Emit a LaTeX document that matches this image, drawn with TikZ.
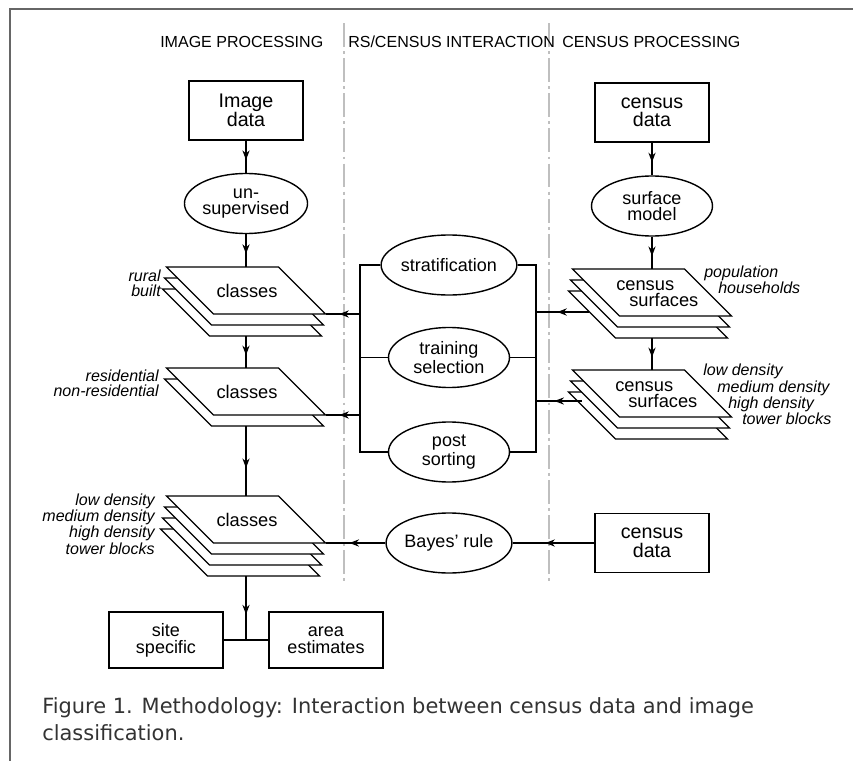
\documentclass[tikz,border=0pt]{standalone}
\usepackage{fontspec}
\setmainfont{Liberation Sans}
\newfontfamily\capfont{DejaVu Sans}
\usetikzlibrary{shapes.geometric,arrows.meta,decorations.markings}

\begin{document}
\begin{tikzpicture}[x=0.25mm,y=-0.25mm,
    box/.style={draw,line width=1pt,minimum width=28.5mm,minimum height=14.75mm,inner sep=0pt,align=center,font=\fontsize{14}{13.2}\selectfont},
    smallbox/.style={box,minimum height=14mm,font=\fontsize{12.8}{11.9}\selectfont},
    oval/.style={draw,ellipse,line width=1pt,minimum width=30.25mm,minimum height=15mm,inner sep=0pt,align=center,font=\fontsize{12.8}{11.7}\selectfont},
    sheet/.style={draw,fill=white,line width=1pt,line join=miter},
    txt/.style={inner sep=0pt,align=center,font=\fontsize{13}{11.6}\selectfont},
    lbl/.style={inner sep=0pt,font=\fontsize{11.4}{10.5}\selectfont\itshape},
    head/.style={inner sep=0pt,anchor=base west,font=\fontsize{11.4}{13}\selectfont},
    capt/.style={inner sep=0pt,anchor=base west,text=black!80,font=\capfont\fontsize{14.9}{19}\selectfont},
    link/.style={line width=0.9pt},
    flow/.style={link,postaction={decorate},decoration={markings,mark=at position 0.6 with {\arrow{Stealth[length=2.4mm,width=1.8mm]}}}},
    sep/.style={gray!50,line width=0.8pt,dash pattern=on 17pt off 3pt on 2pt off 3pt},
]
    \useasboundingbox (0,0) rectangle (853,761);

    % Frame
    \draw[gray!80!black,line width=1.2pt] (10,761) -- (10,9) -- (853,9);

    % Column separators
    \draw[sep] (344,23) -- (344,585);
    \draw[sep] (549,23) -- (549,585);

    % Headings
    \node[head] (hImg) at (160,48) {IMAGE PROCESSING};
    \node[head] (hInt) at (348,48) {RS/CENSUS INTERACTION};
    \node[head] (hCen) at (562,48) {CENSUS PROCESSING};

    % Image processing column
    \node[box] (imgdata) at (246,110.5) {Image\\data};
    \node[oval] (unsup) at (246,203.5) {un-\\supervised};

    % classes (rural / built)
    \foreach \i in {2,1,0}
        \draw[sheet] ({166.5-2*\i},{267+11*\i}) -- ++(112,0) -- ++(47,47) -- ++(-112,0) -- cycle;
    \node[txt] (cls1) at (247,291) {classes};
    \coordinate (cls1-n) at (246,267);
    \coordinate (cls1-s) at (246,336);
    \coordinate (cls1-e) at (325.5,314);
    \node[lbl,align=right,anchor=east] (labRural) at (161,283.5) {rural\\built};

    % classes (residential / non-residential)
    \foreach \i in {1,0}
        \draw[sheet] ({166.5-2*\i},{368+11*\i}) -- ++(112,0) -- ++(47,47) -- ++(-112,0) -- cycle;
    \node[txt] (cls2) at (247,392) {classes};
    \coordinate (cls2-n) at (246,368);
    \coordinate (cls2-s) at (246,426);
    \coordinate (cls2-e) at (325.5,415);
    \node[lbl,align=right,anchor=east] (labRes) at (159,383.5) {residential\\non-residential};

    % classes (densities)
    \foreach \i in {3,2,1,0}
        \draw[sheet] ({166.5-2*\i},{496+11*\i}) -- ++(112,0) -- ++(47,47) -- ++(-112,0) -- cycle;
    \node[txt] (cls3) at (247,520) {classes};
    \coordinate (cls3-n) at (246,496);
    \coordinate (cls3-s) at (246,576);
    \coordinate (cls3-e) at (325.5,543);
    \node[lbl,align=right,anchor=east] (labDens) at (155,524) {low density\\medium density\\high density\\tower blocks};

    % Outputs
    \node[smallbox] (site) at (166,640) {site\\specific};
    \node[smallbox] (area) at (326,640) {area\\estimates};
    \coordinate (junc) at (246,640);

    % Census processing column
    \node[box] (cd1) at (652,112.5) {census\\data};
    \node[oval] (surf) at (652,206) {surface\\model};

    % census surfaces (population / households)
    \foreach \i in {2,1,0}
        \draw[sheet] ({572.5-2*\i},{269+11*\i}) -- ++(112,0) -- ++(47,47) -- ++(-112,0) -- cycle;
    \node[txt,align=left,anchor=west] (cs1) at (616,293.5) {census\\\hspace*{3.25mm}surfaces};
    \coordinate (cs1-n) at (652,269);
    \coordinate (cs1-s) at (652,338);
    \coordinate (cs1-w) at (589,312);
    \node[lbl,align=left,anchor=west] (labPop) at (704,280) {population\\\hspace*{3.5mm}households};

    % census surfaces (densities)
    \foreach \i in {2,1,0}
        \draw[sheet] ({572.5-2*\i},{370+11*\i}) -- ++(112,0) -- ++(47,47) -- ++(-112,0) -- cycle;
    \node[txt,align=left,anchor=west] (cs2) at (615,394.5) {census\\\hspace*{3.25mm}surfaces};
    \coordinate (cs2-n) at (652,370);
    \coordinate (cs2-w) at (582,401);
    \node[lbl,align=left,anchor=west] (labDens2) at (703,394.5) {low density\\\hspace*{3.5mm}medium density\\\hspace*{6.25mm}high density\\\hspace*{9.75mm}tower blocks};

    \node[box] (cd2) at (652,543) {census\\data};

    % Interaction column
    \node[oval] (strat) at (449,265) {stratification};
    \node[oval] (train) at (449,357.5) {training\\selection};
    \node[oval] (post) at (449,452) {post\\sorting};
    \node[oval] (bayes) at (449,543) {Bayes' rule};
    \coordinate (brL) at (360,0);
    \coordinate (brR) at (536,0);

    % Connectors
    \draw[flow] (imgdata) -- (unsup);
    \draw[flow] (unsup) -- (cls1-n);
    \draw[flow] (cls1-s) -- (cls2-n);
    \draw[flow] (cls2-s) -- (cls3-n);
    \draw[flow] (cls3-s) -- (junc);
    \draw[link] (site) -- (area);
    \draw[flow] (cd1) -- (surf);
    \draw[flow] (surf) -- (cs1-n);
    \draw[flow] (cs1-s) -- (cs2-n);
    \draw[link] (strat.west) -- (strat.west -| brL) -- (post.west -| brL) -- (post.west);
    \draw[link] (train.west) -- (train.west -| brL);
    \draw[link] (strat.east) -- (strat.east -| brR) -- (post.east -| brR) -- (post.east);
    \draw[link] (train.east) -- (train.east -| brR);
    \draw[flow] (cls1-e -| brL) -- (cls1-e);
    \draw[flow] (cls2-e -| brL) -- (cls2-e);
    \draw[flow] (cs1-w) -- (cs1-w -| brR);
    \draw[flow] (cs2-w) -- (cs2-w -| brR);
    \draw[flow] (cd2) -- (bayes);
    \draw[flow] (bayes) -- (cls3-e);

    % Caption
    \node[capt] (cap1) at (42,713) {Figure 1. Methodology: Interaction between census data and image};
    \node[capt] (cap2) at (42,740) {classification.};
\end{tikzpicture}
\end{document}
